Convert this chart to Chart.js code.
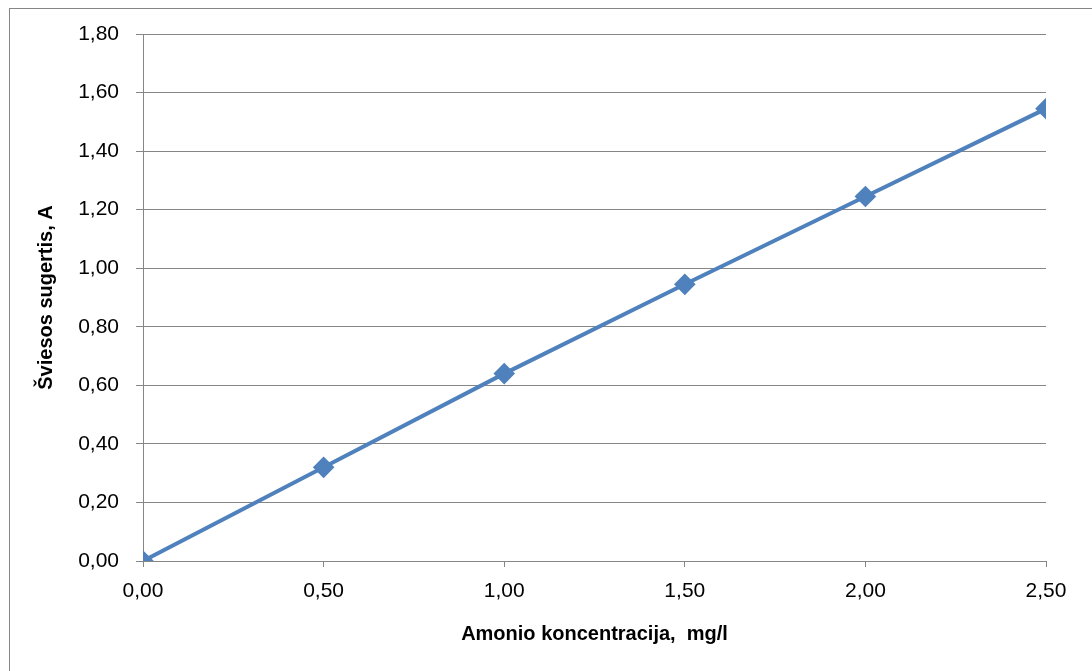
<!DOCTYPE html>
<html>
<head>
<meta charset="utf-8">
<script src="https://cdn.jsdelivr.net/npm/chart.js@4/dist/chart.umd.min.js"></script>
<style>
html,body{margin:0;padding:0;background:#fff;}
#wrap{width:1092px;height:671px;}
</style>
</head>
<body>
<div id="wrap"><canvas id="c"></canvas></div>
<script>
const concentration = [0.00, 0.50, 1.00, 1.50, 2.00, 2.50];
const absorbance = [0.00, 0.32, 0.64, 0.945, 1.245, 1.545];
const xTitle = "Amonio koncentracija,  mg/l";
const yTitle = "Šviesos sugertis, A";

const fmt = v => v.toFixed(2).replace('.', ',');
const gray = '#868686';
const font = "'Liberation Sans', Arial, sans-serif";

const borderPlugin = {
  id: 'outerBorder',
  beforeDraw(chart) {
    const ctx = chart.ctx;
    ctx.save();
    ctx.fillStyle = '#fff';
    ctx.fillRect(0, 0, chart.width, chart.height);
    ctx.strokeStyle = gray;
    ctx.lineWidth = 1;
    ctx.strokeRect(9.5, 8.5, 2000, 2000);
    ctx.restore();
  }
};

new Chart(document.getElementById('c'), {
  type: 'scatter',
  data: {
    datasets: [{
      data: concentration.map((x, i) => ({x: x, y: absorbance[i]})),
      showLine: true,
      borderColor: '#4F81BD',
      backgroundColor: '#4F81BD',
      borderWidth: 4,
      pointStyle: 'rectRot',
      pointRadius: 8,
      pointHoverRadius: 8
    }]
  },
  options: {
    responsive: true,
    maintainAspectRatio: false,
    animation: false,
    events: [],
    layout: { padding: { left: 10, top: 34, right: 46, bottom: 0 } },
    plugins: { legend: { display: false }, tooltip: { enabled: false } },
    scales: {
      x: {
        type: 'linear', min: 0, max: 2.5,
        afterFit(s) { s.height = 110; },
        ticks: { stepSize: 0.5, callback: v => fmt(v), color: '#000', font: { family: font, size: 21 }, padding: 12, maxRotation: 0 },
        grid: { drawOnChartArea: false, color: gray, tickLength: 6, tickWidth: 1 },
        border: { color: gray, width: 1 },
        title: { display: true, text: xTitle, color: '#000', font: { family: font, size: 20, weight: 'bold' }, padding: { top: 0, bottom: 25 } }
      },
      y: {
        type: 'linear', min: 0, max: 1.8,
        afterFit(s) { s.width = 133; },
        ticks: { stepSize: 0.2, callback: v => fmt(v), color: '#000', font: { family: font, size: 21 }, padding: 17 },
        grid: { color: gray, lineWidth: 1, tickLength: 7 },
        border: { color: gray, width: 1 },
        title: { display: true, text: yTitle, color: '#000', font: { family: font, size: 20, weight: 'bold' }, padding: { top: 24, bottom: 0 } }
      }
    }
  },
  plugins: [borderPlugin]
});
</script>
</body>
</html>
